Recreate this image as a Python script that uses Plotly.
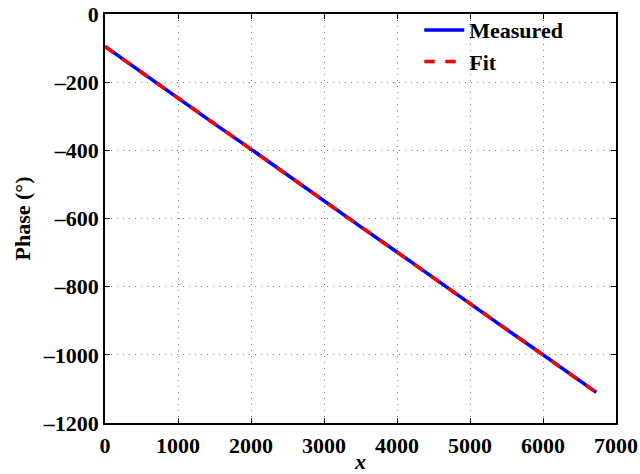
import plotly.graph_objects as go

# Sample positions and phase values (degrees)
x_vals = [0, 500, 1000, 1500, 2000, 2500, 3000, 3500, 4000, 4500, 5000, 5500, 6000, 6500, 6730]
measured = [-94.8, -171.5, -245.6, -322.4, -396.5, -473.1, -547.2, -624.0, -698.1,
            -774.8, -849.0, -925.5, -999.8, -1076.3, -1110.0]
fitted = [-95.5, -170.9, -246.3, -321.7, -397.1, -472.5, -547.9, -623.3, -698.7,
          -774.1, -849.5, -924.9, -1000.3, -1075.7, -1110.4]

x_ticks = [0, 1000, 2000, 3000, 4000, 5000, 6000, 7000]
y_ticks = [0, -200, -400, -600, -800, -1000, -1200]

font_family = "Liberation Serif"
font_size = 22

fig = go.Figure()
fig.add_trace(go.Scatter(x=x_vals, y=measured, mode="lines", name="Measured",
                         line=dict(color="#0000ff", width=3.5)))
fig.add_trace(go.Scatter(x=x_vals, y=fitted, mode="lines", name="Fit",
                         line=dict(color="#ff0000", width=3.5, dash="dash")))

axis_common = dict(
    showline=True, linecolor="black", linewidth=1.5, mirror="ticks",
    ticks="inside", ticklen=5, tickcolor="black",
    showgrid=True, gridcolor="#808080", griddash="1px,5px", gridwidth=1,
    zeroline=False, automargin=False,
    tickfont=dict(family=font_family, size=font_size, color="black", weight="bold"),
)

fig.update_xaxes(range=[0, 7000], tickvals=x_ticks, ticktext=[str(v) for v in x_ticks],
                 ticklabelstandoff=2,
                 title=dict(text="<b><i>x</i></b>", standoff=0,
                            font=dict(family=font_family, size=font_size, color="black")),
                 **axis_common)
fig.update_yaxes(range=[-1200, 0], tickvals=y_ticks,
                 ticktext=[str(v).replace("-", "\u2013") for v in y_ticks],
                 title=dict(text="<b>Phase (°)</b>", standoff=6,
                            font=dict(family=font_family, size=font_size, color="black")),
                 **axis_common)

fig.update_layout(
    width=640, height=474,
    margin=dict(l=105, r=24, t=14, b=51, autoexpand=False),
    paper_bgcolor="white", plot_bgcolor="white",
    showlegend=True,
    legend=dict(x=0.615, y=1.012, xanchor="left", yanchor="top",
                bgcolor="rgba(0,0,0,0)", borderwidth=0,
                font=dict(family=font_family, size=font_size, color="black", weight="bold"),
                tracegroupgap=0, itemwidth=40),
)

fig.write_html("out.html")
